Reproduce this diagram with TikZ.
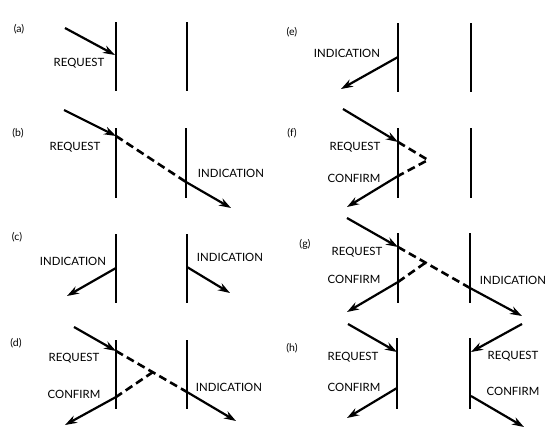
\documentclass[tikz,border=0pt]{standalone}
\usepackage{fontspec}
\setmainfont{Lato}
\usetikzlibrary{arrows.meta}
\tikzset{
  layer/.style={line width=2.8pt},
  prim/.style={line width=2.2pt, -{Stealth[length=12pt,width=8pt]}},
  flow/.style={line width=2.6pt, dash pattern=on 8pt off 4.5pt},
  lbl/.style={font=\fontsize{11.4}{13}\selectfont, inner sep=0pt},
  tag/.style={font=\fontsize{10.5}{12}\selectfont, inner sep=0pt}
}
\begin{document}
\begin{tikzpicture}[x=1pt,y=-1pt]
\useasboundingbox (0,0) rectangle (555,439);
\fill[white] (0,0) rectangle (555,439);

% ---------- (a) ----------
\node[tag] (ta) at (19,29) {(a)};
\coordinate (a1t) at (116,22); \coordinate (a1b) at (116,91);
\coordinate (a2t) at (187,22); \coordinate (a2b) at (187,91);
\draw[layer] (a1t) -- (a1b); \draw[layer] (a2t) -- (a2b);
\coordinate (aS) at (65,28); \coordinate (aR) at (115,55);
\draw[prim] (aS) -- (aR);
\node[lbl] (aReq) at (79,63) {REQUEST};

% ---------- (b) ----------
\node[tag] (tb) at (18,133) {(b)};
\coordinate (b1t) at (116,128); \coordinate (b1b) at (116,198);
\coordinate (b2t) at (186,128); \coordinate (b2b) at (186,198);
\draw[layer] (b1t) -- (b1b); \draw[layer] (b2t) -- (b2b);
\coordinate (bS) at (64,110); \coordinate (bR) at (116,136);
\coordinate (bI) at (186,182); \coordinate (bE) at (231,208);
\draw[prim] (bS) -- (bR);
\draw[flow] (bR) -- (bI);
\draw[prim] (bI) -- (bE);
\node[lbl] (bReq) at (75,147) {REQUEST};
\node[lbl] (bInd) at (231,173) {INDICATION};

% ---------- (c) ----------
\node[tag] (tc) at (17,237) {(c)};
\coordinate (c1t) at (116,234); \coordinate (c1b) at (116,303);
\coordinate (c2t) at (187,234); \coordinate (c2b) at (187,303);
\draw[layer] (c1t) -- (c1b); \draw[layer] (c2t) -- (c2b);
\coordinate (cL) at (116,268); \coordinate (cLE) at (67,296);
\coordinate (cR) at (187,267); \coordinate (cRE) at (230,293);
\draw[prim] (cL) -- (cLE);
\draw[prim] (cR) -- (cRE);
\node[lbl] (cInd1) at (73,261) {INDICATION};
\node[lbl] (cInd2) at (230,257) {INDICATION};

% ---------- (d) ----------
\node[tag] (td) at (16,343) {(d)};
\coordinate (d1t) at (116,340); \coordinate (d1b) at (116,409);
\coordinate (d2t) at (187,340); \coordinate (d2b) at (187,409);
\draw[layer] (d1t) -- (d1b); \draw[layer] (d2t) -- (d2b);
\coordinate (dS) at (74,327); \coordinate (dR) at (116,351);
\coordinate (dX) at (153,372); \coordinate (dI) at (187,392);
\coordinate (dE) at (236,421);
\coordinate (dC) at (116,397); \coordinate (dCE) at (65,425);
\draw[prim] (dS) -- (dR);
\draw[flow] (dR) -- (dI);
\draw[prim] (dI) -- (dE);
\draw[flow] (dX) -- (dC);
\draw[prim] (dC) -- (dCE);
\node[lbl] (dReq) at (74,358) {REQUEST};
\node[lbl] (dCnf) at (74,394) {CONFIRM};
\node[lbl] (dInd) at (229,387) {INDICATION};

% ---------- (e) ----------
\node[tag] (te) at (292,32) {(e)};
\coordinate (e1t) at (398,23); \coordinate (e1b) at (398,92);
\coordinate (e2t) at (471,23); \coordinate (e2b) at (471,92);
\draw[layer] (e1t) -- (e1b); \draw[layer] (e2t) -- (e2b);
\coordinate (eI) at (398,57); \coordinate (eE) at (341,89);
\draw[prim] (eI) -- (eE);
\node[lbl] (eInd) at (347,53) {INDICATION};

% ---------- (f) ----------
\node[tag] (tf) at (292,133) {(f)};
\coordinate (f1t) at (398,128); \coordinate (f1b) at (398,198);
\coordinate (f2t) at (471,128); \coordinate (f2b) at (471,198);
\draw[layer] (f1t) -- (f1b); \draw[layer] (f2t) -- (f2b);
\coordinate (fS) at (343,109); \coordinate (fR) at (398,142);
\coordinate (fX) at (428,160); \coordinate (fC) at (398,176);
\coordinate (fCE) at (347,207);
\draw[prim] (fS) -- (fR);
\draw[flow] (fR) -- (fX) -- (fC);
\draw[prim] (fC) -- (fCE);
\node[lbl] (fReq) at (355,147) {REQUEST};
\node[lbl] (fCnf) at (354,178) {CONFIRM};

% ---------- (g) ----------
\node[tag] (tg) at (305,244) {(g)};
\coordinate (g1t) at (398,233); \coordinate (g1b) at (398,303);
\coordinate (g2t) at (470,233); \coordinate (g2b) at (470,303);
\draw[layer] (g1t) -- (g1b); \draw[layer] (g2t) -- (g2b);
\coordinate (gS) at (347,218); \coordinate (gR) at (398,247);
\coordinate (gI) at (470,288); \coordinate (gE) at (522,316);
\coordinate (gX) at (425,263); \coordinate (gC) at (398,282);
\coordinate (gCE) at (347,312);
\draw[prim] (gS) -- (gR);
\draw[flow] (gR) -- (gI);
\draw[prim] (gI) -- (gE);
\draw[flow] (gX) -- (gC);
\draw[prim] (gC) -- (gCE);
\node[lbl] (gReq) at (357,252) {REQUEST};
\node[lbl] (gCnf) at (354,279) {CONFIRM};
\node[lbl] (gInd) at (513,280) {INDICATION};

% ---------- (h) ----------
\node[tag] (th) at (292,348) {(h)};
\coordinate (h1t) at (397,338); \coordinate (h1b) at (397,409);
\coordinate (h2t) at (470,338); \coordinate (h2b) at (470,409);
\draw[layer] (h1t) -- (h1b); \draw[layer] (h2t) -- (h2b);
\coordinate (hS1) at (348,324); \coordinate (hR1) at (397,352);
\coordinate (hC1) at (397,388); \coordinate (hE1) at (347,418);
\coordinate (hS2) at (522,324); \coordinate (hR2) at (471,352);
\coordinate (hC2) at (471,396); \coordinate (hE2) at (524,427);
\draw[prim] (hS1) -- (hR1);
\draw[prim] (hC1) -- (hE1);
\draw[prim] (hS2) -- (hR2);
\draw[prim] (hC2) -- (hE2);
\node[lbl] (hReq1) at (353,357) {REQUEST};
\node[lbl] (hCnf1) at (354,387) {CONFIRM};
\node[lbl] (hReq2) at (513,356) {REQUEST};
\node[lbl] (hCnf2) at (513,391) {CONFIRM};
\end{tikzpicture}
\end{document}
